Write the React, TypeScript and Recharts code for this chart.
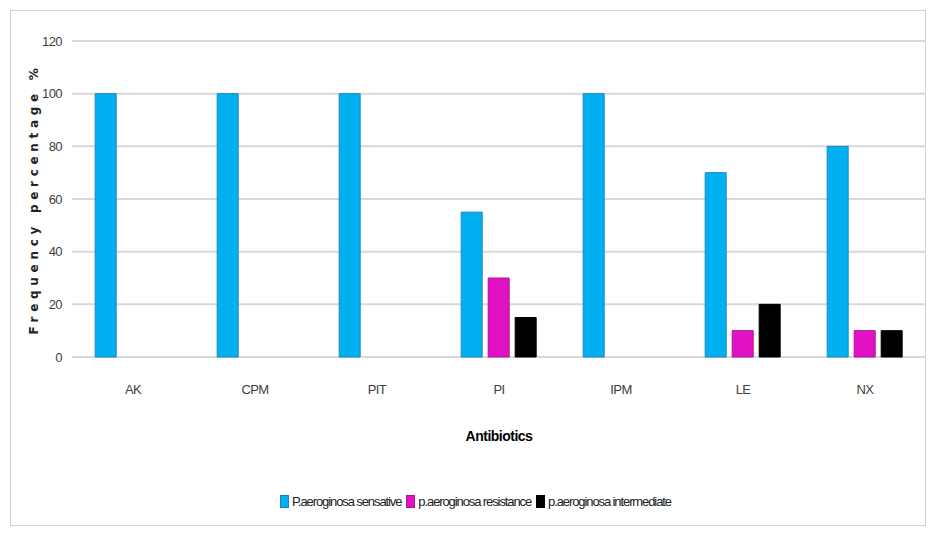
import { BarChart, Bar, XAxis, YAxis, CartesianGrid } from "recharts";

// Values
const antibiotics = ["AK", "CPM", "PIT", "PI", "IPM", "LE", "NX"];
const sensitive = [100, 100, 100, 55, 100, 70, 80];
const resistance = [0, 0, 0, 30, 0, 10, 10];
const intermediate = [0, 0, 0, 15, 0, 20, 10];
const yTicks = [0, 20, 40, 60, 80, 100, 120];

const SERIES = [
  { key: "sensitive", name: "P.aeroginosa sensative", fill: "#00b0f0", stroke: "#1a86c0" },
  { key: "resistance", name: "p.aeroginosa resistance", fill: "#e012c4", stroke: "#b0109a" },
  { key: "intermediate", name: "p.aeroginosa intermediate", fill: "#000000", stroke: "#000000" },
];

const FONT = "'Liberation Sans', Arial, sans-serif";
const tickStyle = { fill: "#404040", fontSize: 13, fontFamily: FONT, letterSpacing: -0.6 };

const data = antibiotics.map((name, i) => ({
  name,
  sensitive: sensitive[i],
  resistance: resistance[i],
  intermediate: intermediate[i],
}));

export default function App() {
  return (
    <div style={{ position: "fixed", left: 0, top: 0, width: 931, height: 535, background: "#fff" }}>
      <div
        style={{
          position: "absolute",
          left: 10,
          top: 10,
          width: 914,
          height: 514,
          border: "1px solid #d0d0d0",
        }}
      />
      <div style={{ position: "absolute", left: 0, top: 0 }}>
        <BarChart
          width={931}
          height={535}
          data={data}
          margin={{ top: 41, right: 5, left: 0, bottom: 0 }}
          barCategoryGap="19%"
          barGap={6}
        >
          <CartesianGrid vertical={false} stroke="#d9d9d9" strokeWidth={2} />
          <XAxis
            dataKey="name"
            height={178}
            axisLine={false}
            tickLine={false}
            tickMargin={22}
            tick={tickStyle}
            label={{
              value: "Antibiotics",
              position: "insideTop",
              offset: 74,
              style: { fill: "#000", fontSize: 14, fontWeight: "bold", fontFamily: FONT, letterSpacing: -0.5 },
            }}
          />
          <YAxis
            width={72}
            domain={[0, 120]}
            ticks={yTicks}
            axisLine={false}
            tickLine={false}
            tickMargin={4}
            tick={tickStyle}
            label={{
              value: "Frequency percentage %",
              angle: -90,
              position: "center",
              dx: -2,
              style: {
                fill: "#222",
                fontSize: 12,
                fontWeight: "bold",
                letterSpacing: 4.7,
                fontFamily: "'DejaVu Sans', sans-serif",
              },
            }}
          />
          {SERIES.map((s) => (
            <Bar
              key={s.key}
              dataKey={s.key}
              name={s.name}
              fill={s.fill}
              stroke={s.stroke}
              strokeWidth={1}
              isAnimationActive={false}
            />
          ))}
        </BarChart>
      </div>
      <div
        style={{
          position: "absolute",
          left: 0,
          width: 931,
          top: 494,
          display: "flex",
          justifyContent: "center",
          paddingLeft: 25,
          boxSizing: "border-box",
          fontFamily: FONT,
          fontSize: 13,
          letterSpacing: -1.1,
          color: "#222",
        }}
      >
        {SERIES.map((s) => (
          <span key={s.key} style={{ display: "flex", alignItems: "center", marginRight: 5 }}>
            <span
              style={{
                display: "inline-block",
                width: 7,
                height: 11,
                background: s.fill,
                border: `1px solid ${s.stroke}`,
                marginRight: 3,
              }}
            />
            {s.name}
          </span>
        ))}
      </div>
    </div>
  );
}
